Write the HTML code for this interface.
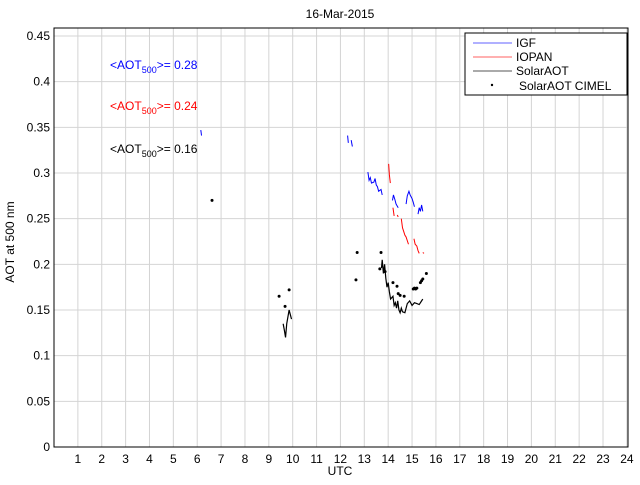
<!DOCTYPE html>
<html><head><meta charset="utf-8"><style>
body{margin:0;background:#fff;font-family:"Liberation Sans",sans-serif}
svg text{font-family:"Liberation Sans",sans-serif}
</style></head><body>
<svg id="c" width="640" height="480" xmlns="http://www.w3.org/2000/svg"></svg>
<script>
const xTicks=[1,2,3,4,5,6,7,8,9,10,11,12,13,14,15,16,17,18,19,20,21,22,23,24];
const yTicks=[0,0.05,0.1,0.15,0.2,0.25,0.3,0.35,0.4,0.45];
const igfSegs=[
 [[6.15,0.347],[6.18,0.341]],
 [[12.3,0.341],[12.33,0.333]],
 [[12.45,0.336],[12.5,0.329]],
 [[13.15,0.301],[13.2,0.292],[13.25,0.295],[13.3,0.289],[13.4,0.29],[13.45,0.294],[13.5,0.287],[13.55,0.285],[13.6,0.28],[13.7,0.282],[13.75,0.276]],
 [[14.18,0.27],[14.22,0.276],[14.28,0.271],[14.33,0.266],[14.42,0.262]],
 [[14.75,0.266],[14.8,0.275],[14.87,0.28],[14.92,0.276],[15.0,0.272],[15.05,0.268],[15.1,0.263]],
 [[15.25,0.255],[15.3,0.262],[15.35,0.258],[15.4,0.265],[15.45,0.258]]
];
const iopanSegs=[
 [[14.02,0.31],[14.05,0.298],[14.09,0.289]],
 [[14.2,0.262],[14.25,0.253]],[[14.38,0.254],[14.42,0.252]],
 [[14.55,0.25],[14.6,0.24],[14.65,0.236],[14.7,0.232],[14.75,0.23],[14.8,0.226],[14.85,0.222]],
 [[15.08,0.228],[15.13,0.222],[15.2,0.22],[15.25,0.215],[15.3,0.212]],
 [[15.45,0.213],[15.5,0.212]]
];
const solarSegs=[
 [[9.6,0.135],[9.65,0.128],[9.7,0.12],[9.75,0.135],[9.85,0.15],[9.9,0.145],[9.95,0.14]],
 [[13.72,0.196],[13.75,0.205],[13.8,0.19],[13.85,0.2],[13.9,0.185],[13.95,0.175],[14.0,0.18],[14.05,0.17],[14.1,0.162],[14.2,0.165],[14.25,0.155],[14.3,0.158],[14.35,0.152],[14.4,0.16],[14.45,0.15],[14.5,0.147],[14.55,0.152],[14.6,0.148],[14.7,0.147],[14.8,0.157],[14.9,0.16],[15.0,0.155],[15.1,0.158],[15.2,0.157],[15.3,0.156],[15.4,0.16],[15.45,0.162]]
];
const cimelHours=[6.62,9.43,9.68,9.85,12.65,12.7,13.65,13.7,13.87,14.2,14.37,14.42,14.5,14.67,15.05,15.1,15.15,15.2,15.35,15.4,15.45,15.6];
const cimelAot=[0.27,0.165,0.154,0.172,0.183,0.213,0.195,0.213,0.192,0.18,0.176,0.168,0.166,0.165,0.173,0.174,0.173,0.174,0.18,0.182,0.184,0.19];
const L=54,R=628,T=36,B=447;
const xs=h=>L+h*23.87, ys=v=>B-v*913.3;
const svg=document.getElementById('c');const NS='http://www.w3.org/2000/svg';
function mk(t,a,txt){const e=document.createElementNS(NS,t);for(const k in a)e.setAttribute(k,a[k]);if(txt!==undefined)e.textContent=txt;svg.appendChild(e);return e;}
let r=mk('rect',{x:L,y:T-8,width:R-L,height:B-T+8,fill:'#fff',stroke:'#000'});


xTicks.forEach(h=>{const x=xs(h);
 let g=mk('line',{x1:x,x2:x,y1:T-8,y2:B,stroke:'#d4d4d4'});
 
 
 let t=mk('text',{x:x,y:B+16,'font-size':12,'text-anchor':'middle'},String(h));
 
 });
yTicks.forEach(v=>{const y=ys(v);
 if(v>0){let g=mk('line',{x1:L,x2:R,y1:y,y2:y,stroke:'#d4d4d4'});
 
 }
 let t=mk('text',{x:L-4,y:y+4,'font-size':12,'text-anchor':'end'},String(v));
 
 });
mk('rect',{x:L,y:T-8,width:R-L,height:B-T+8,fill:'none',stroke:'#000'});
function lines(segs,col,name,w){segs.forEach(s=>{let p=mk('polyline',{points:s.map(q=>xs(q[0])+','+ys(q[1])).join(' '),fill:'none',stroke:col,'stroke-width':w});
 
 });}
lines(igfSegs,'#0000ff','igf-line',1);
lines(iopanSegs,'#ff0000','iopan-line',1);
lines(solarSegs,'#000','solaraot-line',1.2);
cimelHours.forEach((h,i)=>{let c=mk('circle',{cx:xs(h),cy:ys(cimelAot[i]),r:1.5,fill:'#000'});
 
 });
let tt=mk('text',{x:340,y:18,'font-size':12,'text-anchor':'middle'},'16-Mar-2015');

let xl=mk('text',{x:340,y:475,'font-size':12,'text-anchor':'middle'},'UTC');

let yl=mk('text',{x:14,y:242,'font-size':12,'text-anchor':'middle',transform:'rotate(-90 14 242)'},'AOT at 500 nm');

[['#0000ff',69,'0.28'],['#ff0000',110,'0.24'],['#000',153,'0.16']].forEach(a=>{
 let t=mk('text',{x:110,y:a[1],'font-size':12,fill:a[0]});
 t.innerHTML='&lt;AOT<tspan font-size="9" dy="4">500</tspan><tspan dy="-4">&gt;= '+a[2]+'</tspan>';
 
 });
let lg=mk('rect',{x:465,y:33,width:162,height:62,fill:'#fff',stroke:'#000'});

[['IGF','#6060ff',47],['IOPAN','#ff6060',61],['SolarAOT','#aaa',75]].forEach(a=>{
 let l=mk('line',{x1:473,x2:512,y1:a[2]-4,y2:a[2]-4,stroke:a[1],'stroke-width':a[0]=='SolarAOT'?2:1});
 
 let t=mk('text',{x:516,y:a[2],'font-size':12},a[0]);
 });
let ld=mk('circle',{cx:492,cy:85,r:1.2,fill:'#000'});

let lt=mk('text',{x:519,y:90,'font-size':12},'SolarAOT CIMEL');

</script>
</body></html>
